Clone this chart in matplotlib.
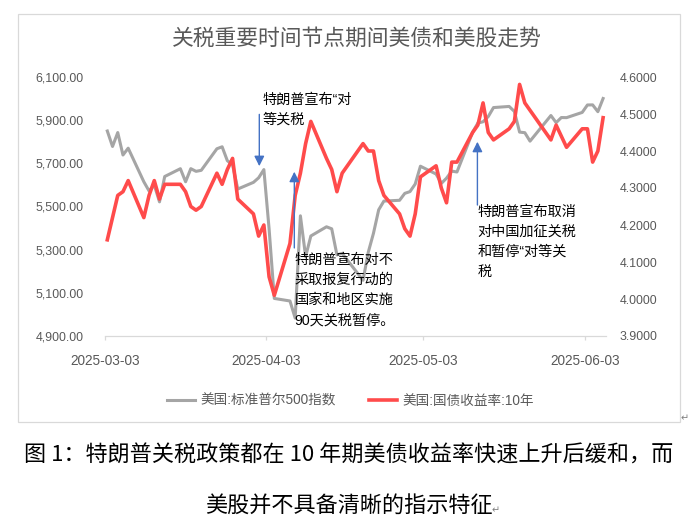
import numpy as np
import pandas as pd
import matplotlib
matplotlib.use("Agg")
import matplotlib.pyplot as plt
from matplotlib.patches import Rectangle
from matplotlib.ticker import FuncFormatter

plt.rcParams['font.family'] = ['Liberation Sans', 'Noto Sans CJK SC', 'DejaVu Sans']

# 交易日
dates = (
    ['2025-03-%02d' % d for d in [3, 4, 5, 6, 7, 10, 11, 12, 13, 14, 17, 18, 19, 20, 21, 24, 25, 26, 27, 28, 31]]
    + ['2025-04-%02d' % d for d in [1, 2, 3, 4, 7, 8, 9, 10, 11, 14, 15, 16, 17, 21, 22, 23, 24, 25, 28, 29, 30]]
    + ['2025-05-%02d' % d for d in [1, 2, 5, 6, 7, 8, 9, 12, 13, 14, 15, 16, 19, 20, 21, 22, 23, 27, 28, 29, 30]]
    + ['2025-06-%02d' % d for d in [2, 3, 4, 5, 6]]
)

# 美国:标准普尔500指数
spx = [5849.72, 5778.15, 5842.63, 5738.52, 5770.20, 5614.56, 5572.07, 5599.30, 5521.52, 5638.94,
       5675.12, 5614.66, 5675.29, 5662.89, 5667.56, 5767.57, 5776.65, 5712.20, 5693.31, 5580.94, 5611.85,
       5633.07, 5670.97, 5396.52, 5074.08, 5062.25, 4982.77, 5456.90, 5268.05, 5363.36, 5405.97,
       5396.63, 5275.70, 5282.70, 5158.20, 5287.76, 5375.86, 5484.77, 5525.21, 5528.75, 5560.83, 5569.06,
       5604.14, 5686.67, 5650.38, 5606.91, 5631.28, 5663.94, 5659.91, 5844.19, 5886.55, 5892.58,
       5916.93, 5958.38, 5963.60, 5940.46, 5844.61, 5842.01, 5802.82, 5921.54, 5888.55, 5912.17, 5911.69,
       5935.94, 5970.37, 5970.81, 5939.30, 6000.36]

# 美国:国债收益率:10年
ust10 = [4.16, 4.22, 4.28, 4.29, 4.32, 4.22, 4.28, 4.32, 4.27, 4.31, 4.31, 4.29, 4.25, 4.24, 4.25,
         4.34, 4.31, 4.35, 4.38, 4.27, 4.23,
         4.17, 4.20, 4.06, 4.01, 4.15, 4.28, 4.34, 4.42, 4.48, 4.38, 4.35, 4.29, 4.34, 4.42, 4.40,
         4.40, 4.32, 4.28, 4.23, 4.19, 4.17,
         4.23, 4.33, 4.36, 4.30, 4.26, 4.37, 4.37, 4.45, 4.47, 4.53, 4.45, 4.43, 4.46, 4.48, 4.58,
         4.53, 4.51, 4.43, 4.47, 4.44, 4.41,
         4.46, 4.46, 4.37, 4.40, 4.49]

tick_dates = ['2025-03-03', '2025-04-03', '2025-05-03', '2025-06-03']

title = '关税重要时间节点期间美债和美股走势'
caption1 = '图 1：特朗普关税政策都在 10 年期美债收益率快速上升后缓和，而'
caption2 = '美股并不具备清晰的指示特征'

# 注释: (文字位置, 文字, 箭头起点, 箭头终点)  右轴数值
notes = [
    (('2025-04-02 04:00', 4.557), '特朗普宣布“对\n等关税',
     ('2025-04-01 15:00', 4.499), ('2025-04-01 15:00', 4.359)),
    (('2025-04-08 09:00', 4.124), '特朗普宣布对不\n采取报复行动的\n国家和地区实施\n90天关税暂停。',
     ('2025-04-08 08:00', 4.138), ('2025-04-08 08:00', 4.344)),
    (('2025-05-13 11:00', 4.255), '特朗普宣布取消\n对中国加征关税\n和暂停“对等关\n税',
     ('2025-05-13 10:00', 4.254), ('2025-05-13 10:00', 4.425)),
]

W, H = 696, 529
fig = plt.figure(figsize=(W / 100, H / 100), dpi=100)

# 图表外框
fig.patches.append(Rectangle((18.3 / W, 1 - 421.7 / H), (680.3 - 18.3) / W, (421.7 - 14.3) / H,
                             transform=fig.transFigure, fill=False, edgecolor='#d9d9d9', lw=0.9))

ax = fig.add_axes([104.7 / W, 1 - 336 / H, 501 / W, 259 / H])
ax2 = ax.twinx()

x = pd.to_datetime(dates) + pd.Timedelta(hours=12)
l1, = ax.plot(x, spx, color='#A5A5A5', lw=2.2, solid_joinstyle='round', label='美国:标准普尔500指数')
l2, = ax2.plot(x, ust10, color='#FF4B4B', lw=2.6, solid_joinstyle='round', label='美国:国债收益率:10年')

ax.set_ylim(4900, 6100)
ax.set_yticks(np.arange(4900, 6101, 200))
ax.yaxis.set_major_formatter(FuncFormatter(lambda v, p: f'{v:,.2f}'))
ax2.set_ylim(3.9, 4.6)
ax2.set_yticks(np.arange(3.9, 4.6001, 0.1))
ax2.yaxis.set_major_formatter(FuncFormatter(lambda v, p: f'{v:.4f}'))

ax.set_xlim(pd.Timestamp('2025-03-03'), pd.Timestamp('2025-06-07'))
ticks = pd.to_datetime(tick_dates)
ax.set_xticks(ticks)
ax.set_xticklabels(tick_dates)

for a in (ax, ax2):
    for s in a.spines.values():
        s.set_visible(False)
ax.spines['bottom'].set_visible(True)
ax.spines['bottom'].set_color('#d9d9d9')
ax.spines['bottom'].set_linewidth(0.9)

ax.tick_params(axis='x', direction='out', length=3, color='#d9d9d9', width=0.9,
               pad=10, labelcolor='#595959', labelsize=9.8)
ax.tick_params(axis='y', length=0, pad=15, labelcolor='#595959', labelsize=8.9)
ax2.tick_params(axis='y', length=0, pad=10, labelcolor='#595959', labelsize=8.9)

for (tpos, txt, a0, a1) in notes:
    ax2.text(pd.Timestamp(tpos[0]), tpos[1], txt, ha='left', va='top', fontsize=10.2,
             linespacing=1.55, color='#000000', zorder=5)
    ax2.annotate('', xy=(pd.Timestamp(a1[0]), a1[1]), xytext=(pd.Timestamp(a0[0]), a0[1]),
                 arrowprops=dict(arrowstyle='-|>,head_length=0.6,head_width=0.3', color='#4472C4',
                                 lw=1.0, mutation_scale=10, shrinkA=0, shrinkB=0), zorder=5)

fig.text(356.7 / W, 1 - 39 / H, title, ha='center', va='center', fontsize=15.7, color='#595959')

fig.legend(handles=[l1, l2], loc='center', bbox_to_anchor=(350.5 / W, 1 - 400.7 / H), ncol=2,
           frameon=False, fontsize=9.8, handlelength=2.1, handletextpad=0.4, columnspacing=2.4,
           labelcolor='#595959')

fig.text(349 / W, 1 - 456 / H, caption1, ha='center', va='center', fontsize=15.9,
         color='#000000', fontweight='light', family=['Noto Sans CJK SC', 'DejaVu Sans'])
fig.text(349 / W, 1 - 506.7 / H, caption2, ha='center', va='center', fontsize=15.9,
         color='#000000', fontweight='light', family=['Noto Sans CJK SC', 'DejaVu Sans'])
fig.text(496 / W, 1 - 510 / H, '↵', ha='center', va='center', fontsize=7, color='#808080',
         family=['DejaVu Sans'])
fig.text(685 / W, 1 - 418 / H, '↵', ha='center', va='center', fontsize=7, color='#808080',
         family=['DejaVu Sans'])

fig.savefig('out.png', dpi=100)
